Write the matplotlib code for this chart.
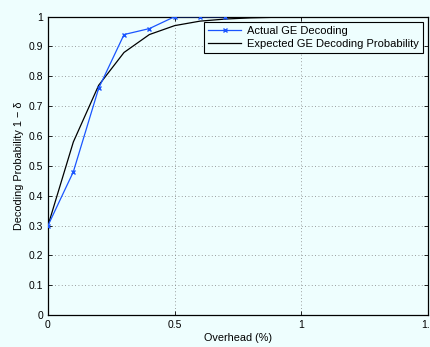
import matplotlib
matplotlib.use("Agg")
from matplotlib import pyplot as plt
import numpy as np

# Measured decoding probability
actual_x = [0, 0.1, 0.2, 0.3, 0.4, 0.5, 0.6, 0.7]
actual_y = [0.30, 0.48, 0.76, 0.94, 0.96, 1.0, 1.0, 1.0]

# Theoretical curve
expected_x = [0, 0.1, 0.2, 0.3, 0.4, 0.5, 0.6, 0.7, 0.8, 0.9, 1.0]
expected_y = [0.30, 0.58, 0.77, 0.88, 0.94, 0.97, 0.985, 0.992, 0.996, 0.998, 0.999]

xticks = [0, 0.5, 1, 1.5]
yticks = [0, 0.1, 0.2, 0.3, 0.4, 0.5, 0.6, 0.7, 0.8, 0.9, 1]

plt.rcParams['font.family'] = ['Liberation Sans', 'DejaVu Sans']
bg = '#eefefe'

fig = plt.figure(figsize=(4.3, 3.47), dpi=100, facecolor=bg)
ax = fig.add_axes([0.1116, 0.092, 0.884, 0.860], facecolor=bg)

ax.plot(actual_x, actual_y, color='#1a55ff', marker='x', markersize=3.5,
        linewidth=0.9, label='Actual GE Decoding', zorder=3)
ax.plot(expected_x, expected_y, color='black', linewidth=0.9,
        label='Expected GE Decoding Probability', zorder=2)

ax.set_xlim(0, 1.5)
ax.set_ylim(0, 1)
ax.set_xticks(xticks)
ax.set_xticklabels(['0', '0.5', '1', '1.5'])
ax.set_yticks(yticks)
ax.set_yticklabels(['0', '0.1', '0.2', '0.3', '0.4', '0.5', '0.6', '0.7',
                    '0.8', '0.9', '1'])
ax.tick_params(direction='in', top=True, right=True, labelsize=7.5,
               length=3, width=0.6)
ax.grid(True, linestyle=(0, (1, 3)), color='#808080', linewidth=0.6)
for s in ax.spines.values():
    s.set_linewidth(0.9)

ax.set_xlabel('Overhead (%)', fontsize=7.8, labelpad=2)
ax.set_ylabel('Decoding Probability 1 − δ', fontsize=7.8, labelpad=3)

leg = ax.legend(loc='upper right', fontsize=8, fancybox=False,
                framealpha=1, facecolor=bg, edgecolor='black',
                borderpad=0.35, labelspacing=0.25, handlelength=3.0,
                handletextpad=0.5, borderaxespad=0.5)
leg.get_frame().set_linewidth(0.8)

fig.savefig('out.png', dpi=100, facecolor=bg)
